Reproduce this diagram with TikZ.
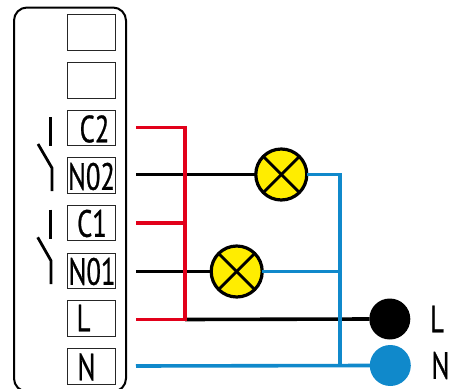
\documentclass[tikz,border=0pt]{standalone}
\usepackage{fontspec}
\setmainfont{PT Sans}
\newfontfamily\narrowf[FakeStretch=0.7,FakeBold=0.6]{PT Sans}
\definecolor{wred}{HTML}{E2001A}
\definecolor{wblue}{HTML}{1089CB}
\definecolor{lampy}{HTML}{FFED00}
\tikzset{
  termbox/.style={draw=black!85,line width=1.1pt,minimum width=47.5pt,minimum height=35.5pt,inner sep=0pt,outer sep=0pt},
  termtext/.style={font=\narrowf\fontsize{38}{38}\selectfont,inner sep=0pt,text=black},
  lamp/.style={circle,draw=black,line width=3.2pt,fill=lampy,minimum size=51pt,inner sep=0pt,outer sep=0pt},
  dotn/.style={circle,minimum size=41pt,inner sep=0pt,outer sep=0pt},
  wire/.style={line width=3.6pt},
  sw/.style={line width=2.8pt,black},
}
\begin{document}
\begin{tikzpicture}[x=1pt,y=-1pt]
\useasboundingbox (0,0) rectangle (451,389);
\begin{scope}
\clip (0,0) rectangle (451,389);
\node[draw=black,line width=2pt,rounded corners=13pt,minimum width=112pt,minimum height=384pt,inner sep=0pt,outer sep=0pt] (body) at (70,199.5) {};
\end{scope}
\node[termbox] (b1) at (91.3,32.5) {};
\node[termbox] (b2) at (91.3,80.3) {};
\node[termbox] (b3) at (91.3,128) {};
\node[termbox] (b4) at (91.3,175.5) {};
\node[termbox] (b5) at (91.3,223) {};
\node[termbox] (b6) at (91.3,271) {};
\node[termbox] (b7) at (91.3,318.5) {};
\node[termbox] (b8) at (91.3,366.5) {};
\node[termtext] (tc2) at (94.5,129) {C2};
\node[termtext] (tn2) at (91.5,176.5) {N02};
\node[termtext] (tc1) at (92,223.5) {C1};
\node[termtext] (tn1) at (92,271.5) {N01};
\node[termtext] (tl) at (83.5,318) {L};
\node[termtext] (tn) at (86.5,367) {N};
% switches
\draw[sw] (50.7,117) -- (50.7,146);
\draw[sw] (38,144) -- (52,168) -- (52,191);
\draw[sw] (50.3,209.7) -- (50.3,239);
\draw[sw] (37.7,237.3) -- (51,260.7) -- (51,284);
% endpoints
\coordinate (sc2) at (136,127.5);
\coordinate (sn2) at (136,174.5);
\coordinate (sc1) at (136,223);
\coordinate (sn1) at (136,271.5);
\coordinate (sl) at (136,319.5);
\coordinate (sN) at (136,366);
\coordinate (rt) at (185,127.5);
\coordinate (rm) at (185,223);
\coordinate (rb) at (185,319.5);
\coordinate (bt) at (340,174.5);
\coordinate (bm) at (340,271.5);
\coordinate (bb) at (340,366);
\node[lamp] (la) at (281.3,174.5) {};
\node[lamp] (lb) at (236.7,271.5) {};
\node[dotn,fill=black] (dl) at (389.8,319) {};
\node[dotn,fill=wblue] (dn) at (390.3,365.5) {};
% black wires
\draw[wire,black] (sn2) -- (la.west);
\draw[wire,black] (sn1) -- (lb.west);
\draw[wire,black] (rb) -- (dl.west);
% red wires
\draw[wire,wred] (sc2) -- (rt) -- (rb) -- (sl);
\draw[wire,wred] (sc1) -- (rm);
% blue wires
\draw[wire,wblue] (la.east) -- (bt) -- (bb);
\draw[wire,wblue] (lb.east) -- (bm);
\draw[wire,wblue] (sN) -- (dn.west);
% lamp crosses
\foreach \l in {la,lb}{
  \draw[line width=2.8pt,black] (\l.north west) -- (\l.south east);
  \draw[line width=2.8pt,black] (\l.north east) -- (\l.south west);
}
\node[termtext] (ll) at (437,319) {L};
\node[termtext] (ln) at (440.5,365.5) {N};
\end{tikzpicture}
\end{document}
